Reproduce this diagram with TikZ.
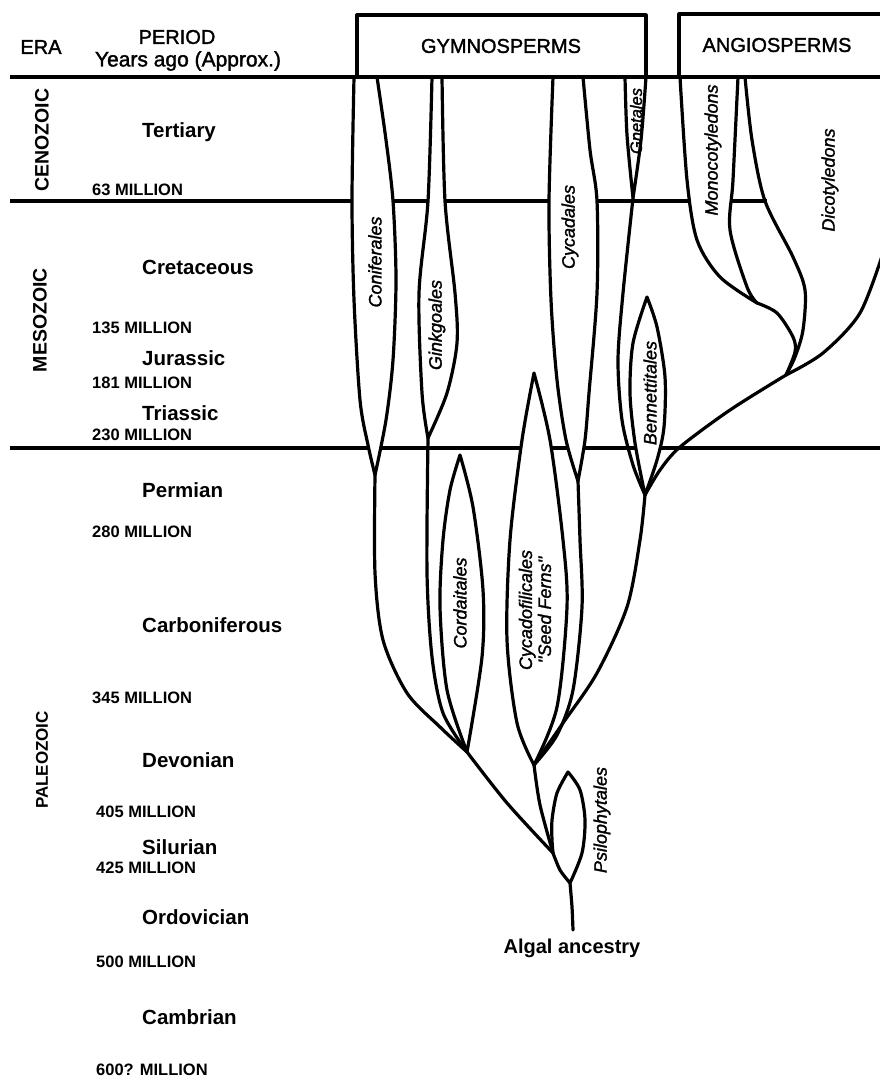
\documentclass[tikz,border=0pt]{standalone}
\usepackage{fontspec}
\setmainfont{Liberation Sans}
\newfontfamily\medfont[FakeBold=1.6]{Liberation Sans}
\begin{document}
\begin{tikzpicture}[x=1pt,y=-1pt,
  edge/.style={line width=3.2pt, line cap=round, line join=round},
  spindle/.style={edge, fill=white},
  rule/.style={line width=3.8pt},
  period/.style={anchor=west, font=\fontsize{20.5}{24}\selectfont\bfseries, inner sep=0pt},
  mya/.style={anchor=west, font=\fontsize{16.5}{20}\selectfont\bfseries, inner sep=0pt},
  era/.style={rotate=90, font=\fontsize{19.5}{23}\selectfont\bfseries, inner sep=0pt},
  clade/.style={rotate=90, font=\fontsize{18}{19}\selectfont\medfont\itshape, inner sep=0pt, align=center},
  head/.style={font=\fontsize{20}{24}\selectfont\medfont, inner sep=0pt},
]
\useasboundingbox[fill=white] (0,0) rectangle (880,1084);

% key points of the tree
\coordinate (cfJ) at (375,475);
\coordinate (gkJ) at (428,438);
\coordinate (cyJ) at (578,481);
\coordinate (cflT) at (534,373);
\coordinate (J3) at (534,765);
\coordinate (coT) at (460,455);
\coordinate (J2) at (467,752);
\coordinate (J4) at (553,853);
\coordinate (J5) at (570,883);
\coordinate (root) at (573,930);
\coordinate (gnJ) at (633,198);
\coordinate (beT) at (647,297);
\coordinate (JB) at (645,495);
\coordinate (moJ) at (757,303);
\coordinate (JA) at (786,375);
\coordinate (psT) at (568,772);

% time rules
\draw[rule] (10,201) -- (767,201);
\draw[rule] (10,448) -- (880,448);

% Coniferales
\filldraw[spindle] plot[smooth] coordinates {(354,77) (352,200) (354,300) (360,400) (368,445) (cfJ)}
  -- plot[smooth] coordinates {(cfJ) (386,420) (393,360) (396,280) (393,201) (386,140) (377,77)} -- cycle;
% Ginkgoales
\filldraw[spindle] plot[smooth] coordinates {(432,77) (428,201) (419,293) (422,393) (gkJ)}
  -- plot[smooth] coordinates {(gkJ) (447,393) (457,343) (455,293) (445,201) (442,77)} -- cycle;
% Cycadales
\filldraw[spindle] plot[smooth] coordinates {(553,77) (549,201) (551,300) (557,380) (566,440) (cyJ)}
  -- plot[smooth] coordinates {(cyJ) (585,440) (589,393) (597,293) (597,201) (590,150) (583,77)} -- cycle;
% Cycadofilicales
\filldraw[spindle] plot[smooth] coordinates {(cflT) (522,440) (510,540) (507,640) (517,723) (J3)}
  -- plot[smooth] coordinates {(J3) (557,707) (567,607) (563,540) (550,440) (cflT)} -- cycle;
% Cordaitales
\filldraw[spindle] plot[smooth] coordinates {(coT) (450,490) (443,540) (440,607) (447,690) (J2)}
  -- plot[smooth] coordinates {(J2) (482,657) (483,590) (473,507) (coT)} -- cycle;
% Gnetales
\filldraw[spindle] plot[smooth] coordinates {(625,77) (627,135) (gnJ)}
  -- plot[smooth] coordinates {(gnJ) (641,140) (646,77)} -- cycle;
% Bennettitales
\filldraw[spindle] plot[smooth] coordinates {(beT) (633,343) (630,393) (635,443) (JB)}
  -- plot[smooth] coordinates {(JB) (657,460) (664,427) (665,377) (657,327) (beT)} -- cycle;
% Monocotyledons
\filldraw[spindle] plot[smooth] coordinates {(680,77) (687,180) (697,240) (720,277) (moJ)}
  -- plot[smooth] coordinates {(moJ) (747,287) (730,230) (733,180) (738,77)} -- cycle;
% Psilophytales
\filldraw[spindle] plot[smooth] coordinates {(psT) (557,793) (552,820) (552,840) (J4)}
  -- plot[smooth] coordinates {(J4) (560,870) (J5)}
  -- plot[smooth] coordinates {(J5) (582,853) (585,820) (580,790) (psT)} -- cycle;

% stems
\draw[edge] plot[smooth] coordinates {(cfJ) (375,573) (383,640) (407,693) (440,727) (J2)};
\draw[edge] plot[smooth] coordinates {(gkJ) (427,573) (432,657) (443,713) (J2)};
\draw[edge] plot[smooth] coordinates {(J2) (507,803) (J4)};
\draw[edge] plot[smooth] coordinates {(J3) (540,805) (J4)};
\draw[edge] plot[smooth] coordinates {(cyJ) (580,540) (582,607) (573,690) (557,735) (J3)};
\draw[edge] plot[smooth] coordinates {(gnJ) (623,293) (618,360) (622,420) (633,465) (JB)};
\draw[edge] plot[smooth] coordinates {(JB) (640,540) (627,607) (597,673) (563,723) (J3)};
\draw[edge] plot[smooth] coordinates {(JA) (730,410) (680,447) (660,470) (JB)};
\draw[edge] plot[smooth] coordinates {(moJ) (777,313) (793,337) (795,352) (JA)};
\draw[edge] plot[smooth] coordinates {(745,77) (752,140) (765,201) (793,257) (805,290) (803,330) (795,357) (JA)};
\draw[edge] plot[smooth] coordinates {(JA) (823,353) (860,313) (884,250)};
\draw[edge] plot[smooth] coordinates {(J5) (572,907) (root)};

% top rule and boxes
\draw[rule] (10,77) -- (880,77);
\draw[edge, line cap=butt] (357,77) -- (357,15) -- (646,15) -- (646,77);
\draw[edge, line cap=butt] (679,77) -- (679,14) -- (882,14);

% headers
\node[head] (era) at (41,47) {ERA};
\node[head] (per) at (177,37) {PERIOD};
\node[head, font=\fontsize{21}{24}\selectfont\medfont] (yrs) at (188,61) {Years ago (Approx.)};
\node[head] (gym) at (501,46) {GYMNOSPERMS};
\node[head] (ang) at (777,45) {ANGIOSPERMS};

% eras
\node[era] (ceno) at (42,140) {CENOZOIC};
\node[era] (meso) at (40,320) {MESOZOIC};
\node[era, font=\fontsize{17}{20}\selectfont\bfseries] (paleo) at (42,760) {PALEOZOIC};

% periods
\node[period] (tert) at (142,132) {Tertiary};
\node[period] (cret) at (142,267) {Cretaceous};
\node[period] (jur) at (142,358) {Jurassic};
\node[period] (tri) at (142,413) {Triassic};
\node[period] (perm) at (142,490) {Permian};
\node[period] (carb) at (142,625) {Carboniferous};
\node[period] (dev) at (142,760) {Devonian};
\node[period] (sil) at (142,847) {Silurian};
\node[period] (ord) at (142,917) {Ordovician};
\node[period] (camb) at (142,1017) {Cambrian};

% ages
\node[mya] (m63) at (92,190) {63 MILLION};
\node[mya] (m135) at (92,328) {135 MILLION};
\node[mya] (m181) at (92,383) {181 MILLION};
\node[mya] (m230) at (92,435) {230 MILLION};
\node[mya] (m280) at (92,532) {280 MILLION};
\node[mya] (m345) at (92,698) {345 MILLION};
\node[mya] (m405) at (96,812) {405 MILLION};
\node[mya] (m425) at (96,868) {425 MILLION};
\node[mya] (m500) at (96,962) {500 MILLION};
\node[mya] (m600) at (96,1070) {600? MILLION};

% clade labels
\node[clade] (lconi) at (375,262) {Coniferales};
\node[clade] (lgink) at (437,325) {Ginkgoales};
\node[clade] (lcyca) at (570,227) {Cycadales};
\node[clade, font=\fontsize{16.5}{18}\selectfont\medfont\itshape] (lgnet) at (636,121) {Gnetales};
\node[clade] (lmono) at (713,150) {Monocotyledons};
\node[clade] (ldico) at (830,180) {Dicotyledons};
\node[clade] (lbenn) at (650,393) {Bennettitales};
\node[clade] (lcord) at (460,603) {Cordaitales};
\node[clade] (lcfil) at (535,610) {Cycadofilicales\\''Seed Ferns''};
\node[clade] (lpsil) at (602,820) {Psilophytales};

\node[period, font=\fontsize{20}{24}\selectfont\bfseries, anchor=center] (algal) at (572,948) {Algal ancestry};
\end{tikzpicture}
\end{document}
